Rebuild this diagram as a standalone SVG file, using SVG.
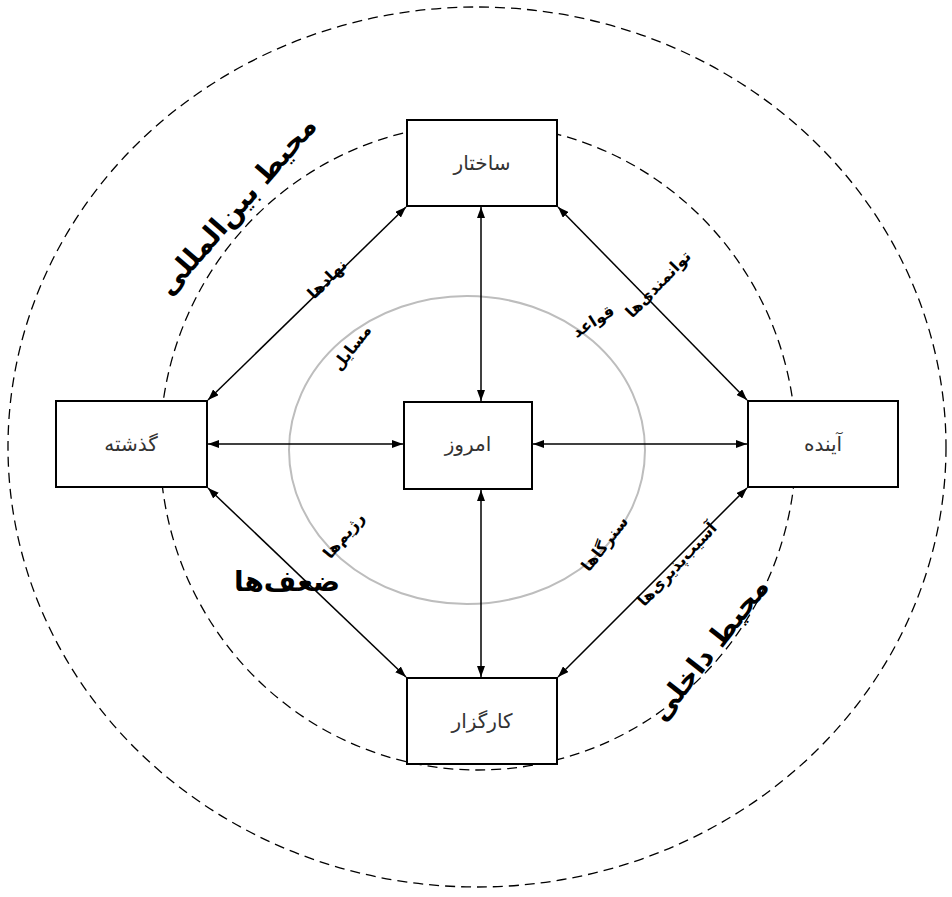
<svg xmlns="http://www.w3.org/2000/svg" width="952" height="897" viewBox="0 0 952 897">
<defs>
<marker id="ah" markerWidth="11" markerHeight="8" refX="11" refY="4" orient="auto-start-reverse" markerUnits="userSpaceOnUse">
<path d="M0,0 L11,4 L0,8 z" fill="#000"/>
</marker>
<style>
.dash{fill:none;stroke:#000;stroke-width:1.3;stroke-dasharray:10,6}
.inner{fill:none;stroke:#bdbdbd;stroke-width:2}
.box{fill:#fff;stroke:#000;stroke-width:2}
.bt{font-family:"DejaVu Serif","DejaVu Sans",serif;font-size:20px;fill:#333;text-anchor:middle}
.conn line{stroke:#000;stroke-width:1.5;marker-start:url(#ah);marker-end:url(#ah)}
.lb{font-family:"DejaVu Sans",sans-serif;font-weight:bold;font-size:16px;fill:#000;text-anchor:middle}
.big{font-family:"DejaVu Sans",sans-serif;font-weight:bold;font-size:28px;fill:#000;text-anchor:middle}
</style>
</defs>
<rect width="952" height="897" fill="#fff"/>
<ellipse class="dash" cx="477" cy="447" rx="469" ry="440"/>
<ellipse class="dash" cx="478" cy="447" rx="318" ry="323"/>
<ellipse class="inner" cx="467" cy="450" rx="178" ry="154"/>
<g id="connectors" class="conn">
<line x1="481" y1="207" x2="481" y2="401"/>
<line x1="481" y1="490" x2="481" y2="677"/>
<line x1="208" y1="444" x2="403" y2="444"/>
<line x1="533" y1="444" x2="747" y2="444"/>
<line x1="208" y1="400" x2="406" y2="207"/>
<line x1="558" y1="207" x2="747" y2="400"/>
<line x1="208" y1="488" x2="406" y2="677"/>
<line x1="747" y1="488" x2="558" y2="677"/>
</g>
<g id="n-sakhtar"><rect class="box" x="407" y="120" width="150" height="86"/><text class="bt" x="482" y="170">ساختار</text></g>
<g id="n-gozashte"><rect class="box" x="56" y="401" width="151" height="86"/><text class="bt" x="131" y="451">گذشته</text></g>
<g id="n-emrooz"><rect class="box" x="404" y="402" width="128" height="87"/><text class="bt" x="468" y="451">امروز</text></g>
<g id="n-ayande"><rect class="box" x="748" y="401" width="150" height="86"/><text class="bt" x="823" y="451">آینده</text></g>
<g id="n-kargozar"><rect class="box" x="407" y="678" width="150" height="86"/><text class="bt" x="482" y="728">کارگزار</text></g>
<g id="labels">
<text class="big" transform="translate(244,212) rotate(-49)">محیط بین‌المللی</text>
<text class="big" transform="translate(717,655) rotate(-52)">محیط داخلی</text>
<text class="big" transform="translate(287,591)">ضعف‌ها</text>
<text class="lb" transform="translate(331,283) rotate(-45)">نهادها</text>
<text class="lb" transform="translate(356,351) rotate(-52)">مسایل</text>
<text class="lb" transform="translate(662,288) rotate(-46)">توانمندی‌ها</text>
<text class="lb" transform="translate(596,326) rotate(-32)">قواعد</text>
<text class="lb" transform="translate(348,539) rotate(-50)">رژیم‌ها</text>
<text class="lb" transform="translate(609,547) rotate(-52)">سنرگاها</text>
<text class="lb" transform="translate(681,568) rotate(-47)">آسیب‌پذیری‌ها</text>
</g>
</svg>
